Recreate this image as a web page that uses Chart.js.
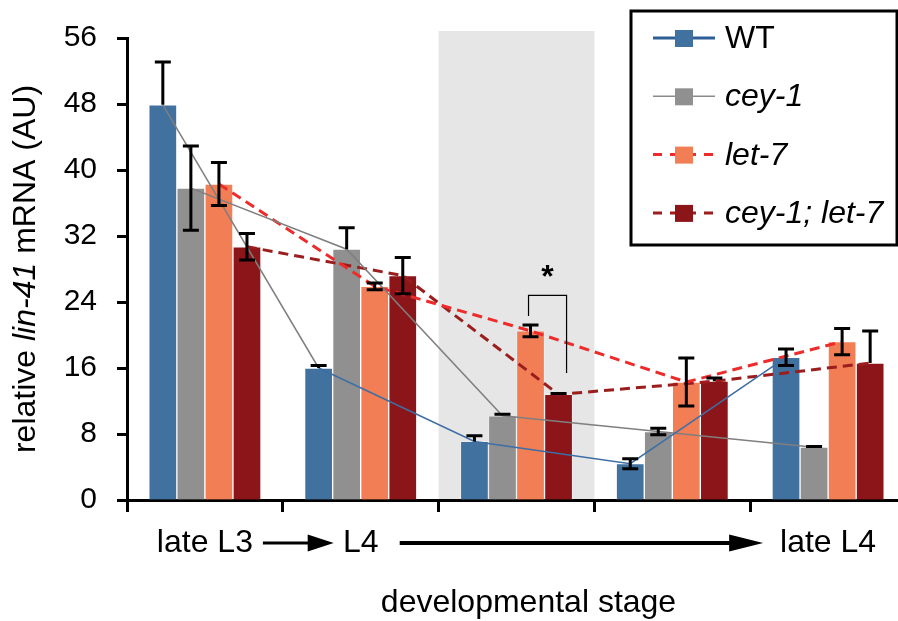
<!DOCTYPE html>
<html>
<head>
<meta charset="utf-8">
<script src="https://cdn.jsdelivr.net/npm/chart.js@4.4.0/dist/chart.umd.min.js"></script>
<style>
  html, body { margin: 0; padding: 0; background: #fff; overflow: hidden; }
  #wrap { position: relative; width: 918px; height: 621px; }
</style>
</head>
<body>
<div id="wrap"><canvas id="chart"></canvas></div>
<script>
// stages on the x axis (only some are labelled)
const stageLabels = ['late L3', 'L4', '', '', 'late L4'];
const seriesNames = ['WT', 'cey-1', 'let-7', 'cey-1; let-7'];

// relative lin-41 mRNA (AU)
const wtValues     = [47.9, 16.0, 7.1, 4.4, 17.3];
const cey1Values   = [37.8, 30.4, 10.2, 8.3, 6.4];
const let7Values   = [38.3, 25.9, 20.5, 14.3, 19.2];
const doubleValues = [30.7, 27.2, 12.8, 14.4, 16.6];

// error bars (upper / lower part)
const wtErrUp       = [5.2, 0.3, 0.7, 0.6, 1.0];
const wtErrDown     = [0, 0, 0, 0.6, 1.0];
const cey1ErrUp     = [5.1, 2.6, 0.2, 0.4, 0.1];
const cey1ErrDown   = [5.1, 0, 0, 0.4, 0];
const let7ErrUp     = [2.6, 0.4, 0.7, 2.9, 1.6];
const let7ErrDown   = [2.6, 0.4, 0.7, 2.9, 1.6];
const doubleErrUp   = [1.6, 2.2, 0.1, 0.4, 3.9];
const doubleErrDown = [1.6, 2.2, 0, 0, 0];

const yTicks = { min: 0, max: 56, step: 8 };

// significance bracket between let-7 and cey-1; let-7 at the shaded stage
const shadedStage = 2;
const sigTop = 24.8;
const sigLeftEnd = 22.3;
const sigRightEnd = 15.4;

const allValues = [wtValues, cey1Values, let7Values, doubleValues];
const allErrUp = [wtErrUp, cey1ErrUp, let7ErrUp, doubleErrUp];
const allErrDown = [wtErrDown, cey1ErrDown, let7ErrDown, doubleErrDown];

const barColors = ['#41719f', '#909090', '#f27e55', '#8c1519'];
const lineColors = ['#3d6ea6', '#7f7f7f', '#ee2b2b', '#9b1d1d'];
const legendLineColors = ['#2d5f96', '#8a8a8a', '#ee2b2b', '#9b1d1d'];
const lineDashes = [[], [], [10, 6], [10, 6]];
const lineWidths = [1.5, 1.5, 3, 3];
const FONT = "'Liberation Sans', Arial, sans-serif";

// each stage is one unit wide on a linear x axis; bars sit side by side inside it
const groupFill = 0.72;
const barOffset = k => (k - 1.5) * groupFill / 4;

const datasets = [];
allValues.forEach((vals, k) => {
    datasets.push({
        type: 'bar',
        label: seriesNames[k],
        data: vals.map((v, i) => ({ x: i + barOffset(k), y: v })),
        backgroundColor: barColors[k],
        borderColor: 'rgba(255,255,255,0.3)',
        borderWidth: 1,
        grouped: false,
        categoryPercentage: 1,
        barPercentage: 1,
        order: 2
    });
});
allValues.forEach((vals, k) => {
    datasets.push({
        type: 'line',
        label: seriesNames[k] + ' trend',
        data: vals.map((v, i) => ({ x: i + barOffset(k), y: v })),
        borderColor: lineColors[k],
        borderWidth: lineWidths[k],
        borderDash: lineDashes[k],
        pointRadius: 0,
        fill: false,
        tension: 0,
        order: 1
    });
});
// first WT segment is drawn grey in the figure
datasets[4].segment = { borderColor: ctx => ctx.p0DataIndex === 0 ? '#7f7f7f' : undefined };

function drawArrow(ctx, x1, x2, y, shaft, headLen, headHalf) {
    ctx.save();
    ctx.strokeStyle = '#000';
    ctx.fillStyle = '#000';
    ctx.lineWidth = shaft;
    ctx.beginPath();
    ctx.moveTo(x1, y);
    ctx.lineTo(x2 - headLen + 2, y);
    ctx.stroke();
    ctx.beginPath();
    ctx.moveTo(x2, y);
    ctx.lineTo(x2 - headLen, y - headHalf);
    ctx.lineTo(x2 - headLen, y + headHalf);
    ctx.closePath();
    ctx.fill();
    ctx.restore();
}

const decorPlugin = {
    id: 'decor',
    beforeDraw(chart) {
        const { ctx, chartArea } = chart;
        const xs = chart.scales.x, ys = chart.scales.y;
        const left = xs.getPixelForValue(shadedStage - 0.5);
        const right = xs.getPixelForValue(shadedStage + 0.5);
        ctx.save();
        ctx.fillStyle = '#e6e6e6';
        ctx.fillRect(left, chartArea.top - 7, right - left, ys.getPixelForValue(0) - chartArea.top + 7);
        ctx.restore();
    },
    afterDatasetsDraw(chart) {
        const { ctx } = chart;
        const ys = chart.scales.y, xs = chart.scales.x;
        ctx.save();
        ctx.strokeStyle = '#000';
        ctx.lineWidth = 3;
        allValues.forEach((vals, k) => {
            const meta = chart.getDatasetMeta(k);
            vals.forEach((v, i) => {
                const x = meta.data[i].x;
                const up = allErrUp[k][i], down = allErrDown[k][i];
                const yTop = ys.getPixelForValue(v + up);
                const yBot = ys.getPixelForValue(v - down);
                ctx.beginPath();
                ctx.moveTo(x, yTop);
                ctx.lineTo(x, yBot);
                if (up > 0) { ctx.moveTo(x - 8, yTop); ctx.lineTo(x + 8, yTop); }
                if (down > 0) { ctx.moveTo(x - 8, yBot); ctx.lineTo(x + 8, yBot); }
                ctx.stroke();
            });
        });

        // bracket + asterisk
        const xL = xs.getPixelForValue(shadedStage + barOffset(2)) - 2;
        const xR = xs.getPixelForValue(shadedStage + barOffset(3)) + 8;
        const yT = ys.getPixelForValue(sigTop);
        ctx.lineWidth = 1.2;
        ctx.beginPath();
        ctx.moveTo(xL, ys.getPixelForValue(sigLeftEnd));
        ctx.lineTo(xL, yT);
        ctx.lineTo(xR, yT);
        ctx.lineTo(xR, ys.getPixelForValue(sigRightEnd));
        ctx.stroke();
        ctx.fillStyle = '#000';
        ctx.font = 'bold 32px ' + FONT;
        ctx.textAlign = 'center';
        ctx.textBaseline = 'alphabetic';
        ctx.fillText('*', (xL + xR) / 2, yT - 8);
        ctx.restore();
    },
    afterDraw(chart) {
        const { ctx } = chart;
        const xs = chart.scales.x;
        ctx.save();

        // y axis title with italic gene name
        const parts = [['relative ', ''], ['lin-41', 'italic '], [' mRNA (AU)', '']];
        ctx.translate(26, 269);
        ctx.rotate(-Math.PI / 2);
        ctx.fillStyle = '#000';
        ctx.textBaseline = 'middle';
        ctx.textAlign = 'left';
        let total = 0;
        const widths = parts.map(([t, st]) => {
            ctx.font = st + '32px ' + FONT;
            const w = ctx.measureText(t).width;
            total += w;
            return w;
        });
        let px = -total / 2;
        parts.forEach(([t, st], i) => {
            ctx.font = st + '32px ' + FONT;
            ctx.fillText(t, px, 0);
            px += widths[i];
        });
        ctx.setTransform(1, 0, 0, 1, 0, 0);

        // x axis title
        ctx.font = '32px ' + FONT;
        ctx.textAlign = 'center';
        ctx.textBaseline = 'alphabetic';
        ctx.fillText('developmental stage', (chart.chartArea.left + chart.chartArea.right) / 2 + 12, 612);

        // stage arrows
        const c0 = xs.getPixelForValue(0), c1 = xs.getPixelForValue(1), c4 = xs.getPixelForValue(4);
        drawArrow(ctx, c0 + 58, c1 - 27, 543, 3, 26, 8.5);
        drawArrow(ctx, c1 + 39, c4 - 65, 543, 4, 34, 8.5);

        // legend
        const box = { x: 631, y: 11, w: 266, h: 234 };
        ctx.fillStyle = '#fff';
        ctx.fillRect(box.x, box.y, box.w, box.h);
        ctx.strokeStyle = '#000';
        ctx.lineWidth = 3;
        ctx.strokeRect(box.x, box.y, box.w, box.h);
        seriesNames.forEach((name, k) => {
            const ry = 38 + k * 58.3;
            ctx.save();
            ctx.strokeStyle = legendLineColors[k];
            ctx.lineWidth = k === 1 ? 1.5 : 3;
            ctx.setLineDash(k >= 2 ? [9, 8] : []);
            ctx.beginPath();
            ctx.moveTo(653, ry);
            ctx.lineTo(715, ry);
            ctx.stroke();
            ctx.restore();
            ctx.fillStyle = barColors[k];
            ctx.fillRect(675, ry - 8, 18, 17);
            ctx.fillStyle = '#000';
            ctx.font = (k === 0 ? '' : 'italic ') + '32px ' + FONT;
            ctx.textAlign = 'left';
            ctx.textBaseline = 'middle';
            ctx.fillText(name, 725, ry + 1);
        });
        ctx.restore();
    }
};

Chart.defaults.font.family = FONT;
Chart.defaults.color = '#000';

const isCentre = v => Math.abs(v - Math.round(v)) < 1e-6;

new Chart(document.getElementById('chart'), {
    type: 'bar',
    data: { datasets: datasets },
    options: {
        responsive: true,
        maintainAspectRatio: false,
        animation: false,
        layout: { padding: { top: 17, left: 0, right: 0, bottom: 0 } },
        plugins: { legend: { display: false }, tooltip: { enabled: false } },
        scales: {
            x: {
                type: 'linear',
                min: -0.5,
                max: stageLabels.length - 0.5,
                offset: false,
                border: { color: '#000', width: 3 },
                grid: {
                    offset: false,
                    drawOnChartArea: false,
                    tickLength: 12,
                    tickWidth: 3,
                    tickColor: ctx => (ctx.tick && isCentre(ctx.tick.value)) ? 'rgba(0,0,0,0)' : '#000'
                },
                afterBuildTicks: scale => {
                    const ticks = [];
                    for (let v = -0.5; v <= stageLabels.length - 0.5 + 1e-9; v += 0.5) ticks.push({ value: v });
                    scale.ticks = ticks;
                },
                ticks: {
                    font: { size: 32 },
                    color: '#000',
                    padding: 12,
                    maxRotation: 0,
                    autoSkip: false,
                    callback: v => isCentre(v) ? stageLabels[Math.round(v)] : ''
                },
                afterFit: scale => { scale.height = 121; }
            },
            y: {
                type: 'linear',
                min: yTicks.min,
                max: yTicks.max,
                border: { color: '#000', width: 3 },
                grid: { drawOnChartArea: false, tickLength: 10, tickWidth: 3, tickColor: '#000' },
                ticks: { stepSize: yTicks.step, font: { size: 30 }, color: '#000', padding: 20 },
                afterFit: scale => { scale.width = 127; }
            }
        }
    },
    plugins: [decorPlugin]
});
</script>
</body>
</html>
